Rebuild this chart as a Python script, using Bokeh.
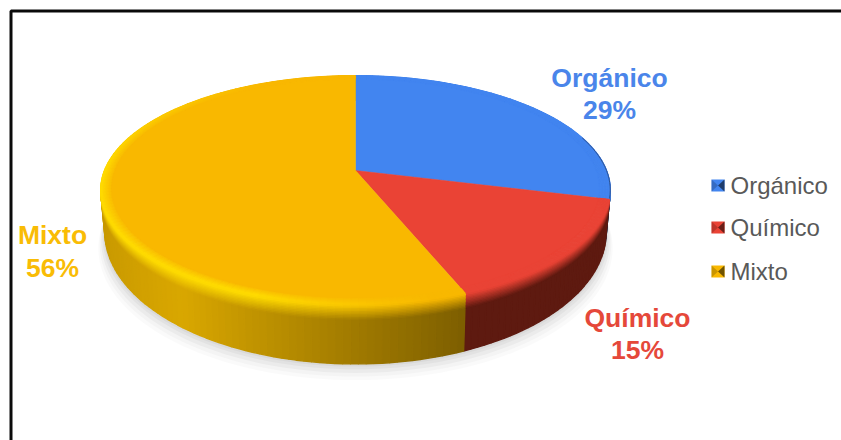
import math
from bokeh.plotting import figure
from bokeh.models import Range1d
from bokeh.embed import file_html
from bokeh.resources import INLINE
from bokeh.core.properties import value

categories = ["Orgánico", "Químico", "Mixto"]
shares = [29, 15, 56]
face_colors = ["#4285F0", "#EA4335", "#F9B800"]
side_colors = ["#1E2C48", "#5E1A10", "#B88B00"]
label_colors = ["#4A85EA", "#E5483A", "#F9BC05"]

W, H = 841, 440

# Perspective disc: unit-circle coordinates projected to the page
CX, APEX_Y, A, B, K = 355, 170, 251, 111, 0.171
LOW_APEX_Y, LOW_A, LOW_B = 209, 247, 128


def top(u, v):
    d = 1 - K * v
    return CX + A * u / d, APEX_Y + B * v / d


def low(u, v):
    d = 1 - K * v
    return CX + LOW_A * u / d, LOW_APEX_Y + LOW_B * v / d


def rim(theta, r=1.0):
    return r * math.sin(theta), -r * math.cos(theta)


def hex_rgb(c):
    return tuple(int(c[i:i + 2], 16) for i in (1, 3, 5))


def mix(a, b, t):
    t = max(0.0, min(1.0, t))
    return tuple(a[i] + (b[i] - a[i]) * t for i in range(3))


def to_hex(c):
    return "#%02x%02x%02x" % tuple(int(round(x)) for x in c)


def ramp(x, lo, hi):
    return max(0.0, min(1.0, (x - lo) / (hi - lo)))


p = figure(width=W, height=H, x_range=Range1d(0, W), y_range=Range1d(H, 0),
           toolbar_location=None, output_backend="svg", min_border=0,
           outline_line_color=None, background_fill_color="white",
           border_fill_color="white")
p.axis.visible = False
p.grid.visible = False

# Picture frame, open towards the right and bottom of the page
p.line([10.5, 10.5, W], [H, 10.5, 10.5], line_color="#0a0a0a", line_width=3)

# Soft floor shadow under the disc
for grow, alpha in [(18, 0.04), (14, 0.05), (10, 0.07), (6, 0.08), (3, 0.09)]:
    xs, ys = [], []
    for i in range(181):
        u, v = rim(2 * math.pi * i / 180)
        x, y = low(u, v)
        xs.append(CX + (x - CX) * (1 + grow / 700))
        ys.append(y + grow * 0.9)
    p.patch(xs, ys, fill_color="#808080", fill_alpha=alpha, line_color=None)

# Slice angles, clockwise from twelve o'clock
total = sum(shares)
edges = [0.0]
for s in shares:
    edges.append(edges[-1] + 2 * math.pi * s / total)

STEP = math.radians(1.5)


def slice_steps(k):
    n = max(2, int((edges[k + 1] - edges[k]) / STEP))
    for i in range(n):
        yield (edges[k] + (edges[k + 1] - edges[k]) * i / n,
               edges[k] + (edges[k + 1] - edges[k]) * (i + 1) / n)


def wall_shade(k, theta):
    """Wall colour: lit towards the left, falling dark to the right."""
    if k != 2:
        return hex_rgb(side_colors[k])
    x = math.sin(theta)
    bright, dark = hex_rgb("#D9A700"), hex_rgb("#7A5C00")
    if x < -0.6:
        return mix(hex_rgb("#C79800"), bright, (x + 1) / 0.4)
    return mix(bright, dark, (x + 0.6) / 1.0)


def glow_amount(k, theta):
    """Highlight strength on the bevel; only the large slice catches the light."""
    if k != 2:
        return 0.0
    deg = math.degrees(theta)
    return ramp(deg, 165, 200) * (1 - ramp(deg, 270, 335))


def rim_color(k, theta):
    face = hex_rgb(face_colors[k])
    return mix(face, hex_rgb("#FFDC00"), glow_amount(k, theta))


# Wall, split into bands so its upper edge melts into the bevel.
# Lower bands go first so each strip's outline only touches its own band.
FADE = 0.25
FADE_STEPS = 10
BANDS = [FADE * i / FADE_STEPS for i in range(FADE_STEPS + 1)] + [1.0]
wall = []
for k in range(3):
    for t0, t1 in slice_steps(k):
        tm = (t0 + t1) / 2
        base = wall_shade(k, tm)
        start = rim_color(k, tm)
        a0, a1 = top(*rim(t0)), top(*rim(t1))
        b0, b1 = low(*rim(t0)), low(*rim(t1))
        for j in range(len(BANDS) - 1):
            s0, s1 = BANDS[j], BANDS[j + 1]
            col = mix(start, base, (s0 + s1) / 2 / FADE)
            quad = [(a0[0] + (b0[0] - a0[0]) * s0, a0[1] + (b0[1] - a0[1]) * s0),
                    (a1[0] + (b1[0] - a1[0]) * s0, a1[1] + (b1[1] - a1[1]) * s0),
                    (a1[0] + (b1[0] - a1[0]) * s1, a1[1] + (b1[1] - a1[1]) * s1),
                    (a0[0] + (b0[0] - a0[0]) * s1, a0[1] + (b0[1] - a0[1]) * s1)]
            wall.append((-j, k, quad, to_hex(col)))
wall.sort(key=lambda w: (w[0], w[1]))
p.patches([[q[0] for q in w[2]] for w in wall], [[q[1] for q in w[2]] for w in wall],
          fill_color=[w[3] for w in wall], line_color=[w[3] for w in wall], line_width=1.4)

# Bevel: narrow rings between the flat face and the rim
BEVEL_IN = 0.955
RINGS = 8
ring_xs, ring_ys, ring_cs = [], [], []
for k in range(3):
    face = hex_rgb(face_colors[k])
    for t0, t1 in slice_steps(k):
        tm = (t0 + t1) / 2
        glow = rim_color(k, tm)
        for j in range(RINGS):
            r0 = BEVEL_IN + (1.0 - BEVEL_IN) * j / RINGS
            r1 = BEVEL_IN + (1.0 - BEVEL_IN) * (j + 1) / RINGS
            c = mix(face, glow, (j + 0.5) / RINGS)
            p0, p1 = top(*rim(t0, r0)), top(*rim(t1, r0))
            p2, p3 = top(*rim(t1, r1)), top(*rim(t0, r1))
            ring_xs.append([p0[0], p1[0], p2[0], p3[0]])
            ring_ys.append([p0[1], p1[1], p2[1], p3[1]])
            ring_cs.append(to_hex(c))
p.patches(ring_xs, ring_ys, fill_color=ring_cs, line_color=ring_cs, line_width=1.0)

# Flat upper face of each slice
for k in range(3):
    n = max(2, int((edges[k + 1] - edges[k]) / STEP))
    pts = [top(0, 0)]
    for i in range(n + 1):
        t = edges[k] + (edges[k + 1] - edges[k]) * i / n
        pts.append(top(*rim(t, BEVEL_IN + 0.004)))
    p.patch([q[0] for q in pts], [q[1] for q in pts],
            fill_color=face_colors[k], line_color=face_colors[k], line_width=0.5)

# Thin dark edge where the blue slice turns away at the right
edge_pts = [top(*rim(math.radians(d))) for d in range(72, 105, 2)]
p.line([q[0] for q in edge_pts], [q[1] for q in edge_pts],
       line_color="#26406F", line_width=1, line_alpha=0.7)

# Data labels beside the disc
label_x = [609, 637, 52]
label_y = [[77, 109], [317, 349], [234, 267]]
for k in range(3):
    for txt, y in zip([categories[k], f"{shares[k]}%"], label_y[k]):
        p.text([label_x[k]], [y], text=[txt], text_color=label_colors[k],
               text_font=value("Liberation Sans"), text_font_style="bold",
               text_font_size="26.5px", text_align="center", text_baseline="middle")

# Legend
legend_y = [185, 227, 271]
for k in range(3):
    y = legend_y[k]
    x0, x1, y0, y1 = 711, 724, y - 6, y + 6
    xm, ym = (x0 + x1) / 2, y
    dark = to_hex(mix(hex_rgb(face_colors[k]), (0, 0, 0), 0.55))
    p.patch([x0, x1, x1, x0], [y0, y0, y1, y1], fill_color=face_colors[k], line_color=None)
    p.patch([x0, xm, x0], [y0, ym, y1], fill_color=dark, fill_alpha=0.35, line_color=None)
    p.patch([x1, xm, x1], [y0, ym, y1], fill_color=dark, line_color=None)
    p.text([730], [y], text=[categories[k]], text_color="#595959",
           text_font=value("Liberation Sans"), text_font_size="24px",
           text_align="left", text_baseline="middle")

open("out.html", "w").write(file_html(p, INLINE))
